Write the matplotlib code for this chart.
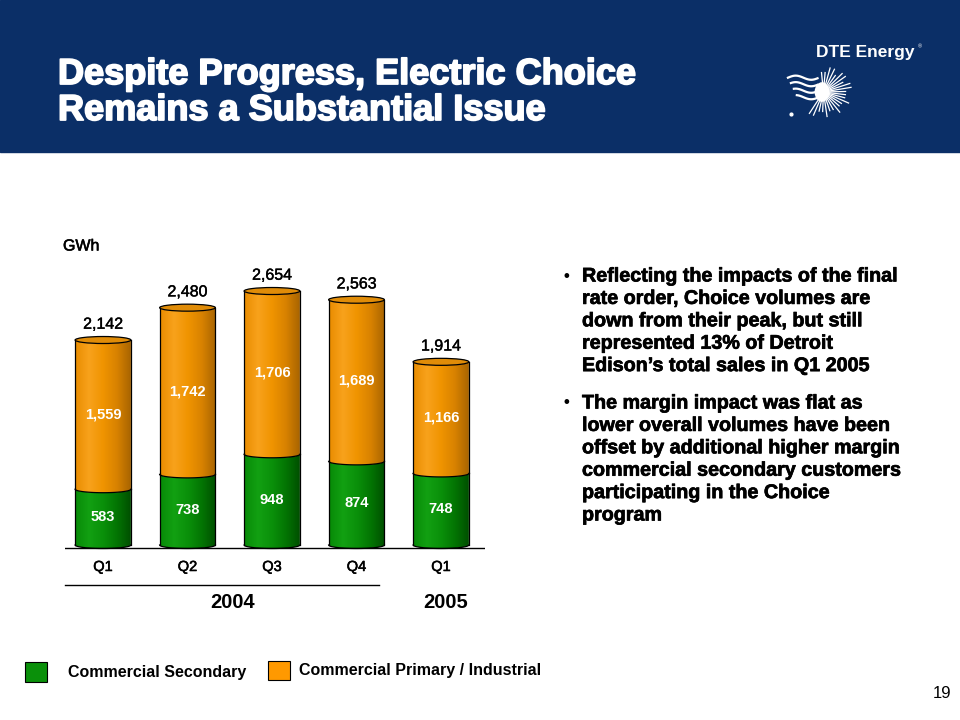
import numpy as np
import matplotlib
matplotlib.use("Agg")
import matplotlib.pyplot as plt
import matplotlib.transforms as mtransforms
import matplotlib.patheffects as pe
from matplotlib.path import Path
from matplotlib.patches import PathPatch, Ellipse, Rectangle
from matplotlib.colors import LinearSegmentedColormap

# values (GWh)
quarters = ["Q1", "Q2", "Q3", "Q4", "Q1"]
years = ["2004", "2005"]
secondary = [583, 738, 948, 874, 748]
primary = [1559, 1742, 1706, 1689, 1166]
totals = [2142, 2480, 2654, 2563, 1914]

bullets = [
    ["Reflecting the impacts of the final",
     "rate order, Choice volumes are",
     "down from their peak, but still",
     "represented 13% of Detroit",
     "Edison\u2019s total sales in Q1 2005"],
    ["The margin impact was flat as",
     "lower overall volumes have been",
     "offset by additional higher margin",
     "commercial secondary customers",
     "participating in the Choice",
     "program"],
]

plt.rcParams["font.family"] = ["Liberation Sans", "DejaVu Sans"]

W, H = 960, 720
fig = plt.figure(figsize=(9.6, 7.2), dpi=100)


def fx(px):
    return px / W


def fy(py):
    return 1 - py / H


heavy_white = [pe.withStroke(linewidth=1.3, foreground="white")]
heavy_black = [pe.withStroke(linewidth=0.5, foreground="black")]

# header band
fig.patches.append(Rectangle((0, fy(152)), 1, 152 / H, transform=fig.transFigure,
                             color="#0b2f67", zorder=-10))
fig.text(fx(58), fy(84), "Despite Progress, Electric Choice", color="white",
         fontsize=26, fontweight="bold", va="baseline", path_effects=heavy_white)
fig.text(fx(58), fy(120), "Remains a Substantial Issue", color="white",
         fontsize=26, fontweight="bold", va="baseline", path_effects=heavy_white)
fig.text(fx(865), fy(52), "DTE Energy", color="white", fontsize=12.5,
         fontweight="bold", ha="center", va="center")
fig.text(fx(918), fy(47), "\u00ae", color="white", fontsize=4, va="center")

# little sunburst logo
logo = fig.add_axes([fx(785), fy(118), fx(68), 52 / H], zorder=5)
logo.set_xlim(-1.3, 1.0)
logo.set_ylim(-1.0, 1.0)
logo.axis("off")
for ang in np.linspace(-120, 95, 24):
    a = np.deg2rad(ang)
    r1 = 0.95 if int(ang) % 2 == 0 else 0.75
    logo.plot([0.15 * np.cos(a), r1 * np.cos(a)], [0.15 * np.sin(a), r1 * np.sin(a)],
              color="white", lw=0.9)
logo.add_patch(Ellipse((-0.05, 0.0), 0.45, 0.7, color="white"))
for k, yy in enumerate([0.55, 0.3, 0.05, -0.2]):
    xs = np.linspace(-1.2 + 0.1 * k, -0.2, 20)
    logo.plot(xs, yy + 0.08 * np.sin((xs + 1.2) * 6), color="white", lw=1.6)
logo.plot([-1.1], [-0.85], "o", color="white", ms=2)

# chart axes: 0 GWh sits at y=545 px, 0.0957 px per GWh
scale = 0.0957
ax = fig.add_axes([fx(65), fy(560), fx(420), 320 / H])
x = np.arange(len(quarters))
width = 0.66
eh = 7 / scale  # ellipse height in data units

orange_cmap = LinearSegmentedColormap.from_list(
    "orng", ["#e98c00", "#f8a21c", "#f09400", "#d88200", "#a86400"])
green_cmap = LinearSegmentedColormap.from_list(
    "grn", ["#078a07", "#12a012", "#0a900a", "#037503", "#004f00"])
grad = np.linspace(0, 1, 256).reshape(1, -1)

bars_g = ax.bar(x, secondary, width, color="none", edgecolor="none")
bars_o = ax.bar(x, primary, width, bottom=secondary, color="none", edgecolor="none")


def cyl_path(x0, w, y0, y1, n=48):
    t = np.linspace(np.pi, 2 * np.pi, n)
    cx = x0 + w / 2
    bot = np.column_stack([cx + w / 2 * np.cos(t), y0 + eh / 2 * np.sin(t)])
    top = np.column_stack([cx + w / 2 * np.cos(t[::-1]), y1 + eh / 2 * np.sin(t[::-1])])
    verts = np.vstack([bot, top, bot[:1]])
    return Path(verts, closed=True)


def lower_arc(x0, w, y0, n=48):
    t = np.linspace(np.pi, 2 * np.pi, n)
    cx = x0 + w / 2
    return cx + w / 2 * np.cos(t), y0 + eh / 2 * np.sin(t)


for bars, cmap in [(bars_g, green_cmap), (bars_o, orange_cmap)]:
    for p in bars:
        x0, w, y0, h = p.get_x(), p.get_width(), p.get_y(), p.get_height()
        shape = PathPatch(cyl_path(x0, w, y0, y0 + h), facecolor="none",
                          edgecolor="none", transform=ax.transData)
        ax.add_patch(shape)
        im = ax.imshow(grad, extent=(x0, x0 + w, y0 - eh, y0 + h), aspect="auto",
                       cmap=cmap, zorder=2, interpolation="bilinear")
        im.set_clip_path(shape)
        ax_, ay_ = lower_arc(x0, w, y0)
        ax.plot(ax_, ay_, color="black", lw=0.9, zorder=3)
        ax.plot([x0, x0], [y0, y0 + h], color="black", lw=0.9, zorder=3)
        ax.plot([x0 + w, x0 + w], [y0, y0 + h], color="black", lw=0.9, zorder=3)

# top caps, totals and segment labels
for p, tot in zip(bars_o, totals):
    cx = p.get_x() + p.get_width() / 2
    ax.add_patch(Ellipse((cx, tot), p.get_width(), eh, facecolor="#e08c08",
                         edgecolor="black", lw=0.9, zorder=4))
    ax.text(cx, tot + 165, f"{tot:,}", ha="center", va="center", fontsize=11.5,
            path_effects=[pe.withStroke(linewidth=0.3, foreground="black")])

for xi, g, o in zip(x, secondary, primary):
    ax.text(xi, g / 2, f"{g:,}", ha="center", va="center", fontsize=10.5,
            fontweight="bold", color="white", zorder=5)
    ax.text(xi, g + o / 2, f"{o:,}", ha="center", va="center", fontsize=10.5,
            fontweight="bold", color="white", zorder=5)

ax.axhline(-36, color="black", lw=1)
ax.set_xlim((65 - 103) / 84.5, (485 - 103) / 84.5)
ax.set_ylim(-15 / scale, 305 / scale)
ax.axis("off")

# category labels under the axis
tr = mtransforms.blended_transform_factory(ax.transData, fig.transFigure)
for xi, q in zip(x, quarters):
    ax.text(xi, fy(567), q, transform=tr, ha="center", va="center", fontsize=10.5,
            path_effects=[pe.withStroke(linewidth=0.4, foreground="black")])
fig.add_artist(plt.Line2D([fx(65), fx(379)], [fy(585), fy(585)], color="black", lw=1))
fig.text(fx(233), fy(603), years[0], ha="center", va="center", fontsize=14.5,
         fontweight="bold")
fig.text(fx(446), fy(603), years[1], ha="center", va="center", fontsize=14.5,
         fontweight="bold")
fig.text(fx(63), fy(246), "GWh", va="center", fontsize=11.5,
         path_effects=[pe.withStroke(linewidth=0.4, foreground="black")])

# bullets
y0 = 276
step = 22.4
for lines in bullets:
    fig.text(fx(563), fy(y0), "\u2022", va="center", fontsize=12, fontweight="bold")
    for line in lines:
        fig.text(fx(582), fy(y0), line, va="center", fontsize=14.2, fontweight="bold",
                 path_effects=heavy_black)
        y0 += step
    y0 += 15

# legend
fig.patches.append(Rectangle((fx(25), fy(682)), fx(22), 20 / H, transform=fig.transFigure,
                             facecolor="#0a900a", edgecolor="black", lw=0.8))
fig.text(fx(68), fy(672), "Commercial Secondary", va="center", fontsize=11.5,
         fontweight="bold")
fig.patches.append(Rectangle((fx(268), fy(680)), fx(22), 19 / H, transform=fig.transFigure,
                             facecolor="#ff9900", edgecolor="black", lw=0.8))
fig.text(fx(299), fy(671), "Commercial Primary / Industrial", va="center", fontsize=11.5,
         fontweight="bold")

fig.text(fx(951), fy(693), "19", ha="right", va="center", fontsize=12)

fig.savefig("out.png", dpi=100)
